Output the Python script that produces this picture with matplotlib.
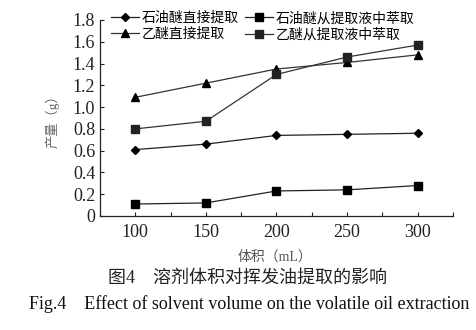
import matplotlib
matplotlib.use("Agg")
import matplotlib.pyplot as plt
from matplotlib.ticker import MultipleLocator

plt.rcParams['font.family'] = ['Liberation Serif', 'Noto Sans CJK SC']

volume = [100, 150, 200, 250, 300]
pe_direct = [0.61, 0.66, 0.74, 0.75, 0.76]
pe_extract = [0.11, 0.12, 0.23, 0.24, 0.28]
ether_direct = [1.09, 1.22, 1.35, 1.41, 1.48]
ether_extract = [0.80, 0.87, 1.30, 1.46, 1.57]

labels = ['石油醚直接提取', '石油醚从提取液中萃取', '乙醚直接提取', '乙醚从提取液中萃取']

fig = plt.figure(figsize=(4.77, 3.30), dpi=100)
ax = fig.add_axes([100/477, 1-216/330, 353/477, 196/330])

lw = 0.9
h0, = ax.plot(volume, pe_direct, color='#222222', lw=lw, marker='D', ms=4.5, mfc='black', mec='black')
h1, = ax.plot(volume, pe_extract, color='#222222', lw=lw, marker='s', ms=6, mfc='black', mec='black')
h2, = ax.plot(volume, ether_direct, color='#333333', lw=lw, marker='^', ms=6, mfc='black', mec='black')
h3, = ax.plot(volume, ether_extract, color='#333333', lw=lw, marker='s', ms=6, mfc='#222222', mec='#222222')

ax.set_xlim(75, 325)
ax.set_ylim(0, 1.8)
ax.set_xticks(volume)
ax.xaxis.set_minor_locator(MultipleLocator(25))
ax.set_yticks([0, 0.2, 0.4, 0.6, 0.8, 1.0, 1.2, 1.4, 1.6, 1.8])
ax.set_yticklabels(['0', '0.2', '0.4', '0.6', '0.8', '1.0', '1.2', '1.4', '1.6', '1.8'])
ax.tick_params(axis='both', which='both', direction='in', labelsize=13, width=0.8, colors='#222222')
ax.tick_params(axis='both', which='both', length=3)
ax.tick_params(axis='x', pad=6)
ax.spines['top'].set_visible(False)
ax.spines['right'].set_visible(False)
for s in ('left', 'bottom'):
    ax.spines[s].set_linewidth(0.9)
    ax.spines[s].set_color('#222222')

fig.text(52/477, 1-118/330, '产量（g）', rotation=90, ha='center', va='center',
         fontsize=9.5, color='#666666')
fig.text(275/477, 1-257/330, '体积（mL）', ha='center', va='center',
         fontsize=10, color='#555555')

# legend filled row by row
ax.legend([h0, h2, h1, h3], [labels[0], labels[2], labels[1], labels[3]],
          loc='upper left', ncol=2, frameon=False, fontsize=10,
          bbox_to_anchor=(0.015, 1.07), handlelength=2.0, handletextpad=0.2,
          columnspacing=0.5, labelspacing=0.2, borderaxespad=0)

fig.text(248/477, 1-278/330, '图4    溶剂体积对挥发油提取的影响', ha='center', va='center',
         fontsize=13, color='#222222')
fig.text(249/477, 1-304/330, 'Fig.4    Effect of solvent volume on the volatile oil extraction',
         ha='center', va='center', fontsize=13, color='#111111')

fig.savefig('out.png', dpi=100, facecolor='white')
